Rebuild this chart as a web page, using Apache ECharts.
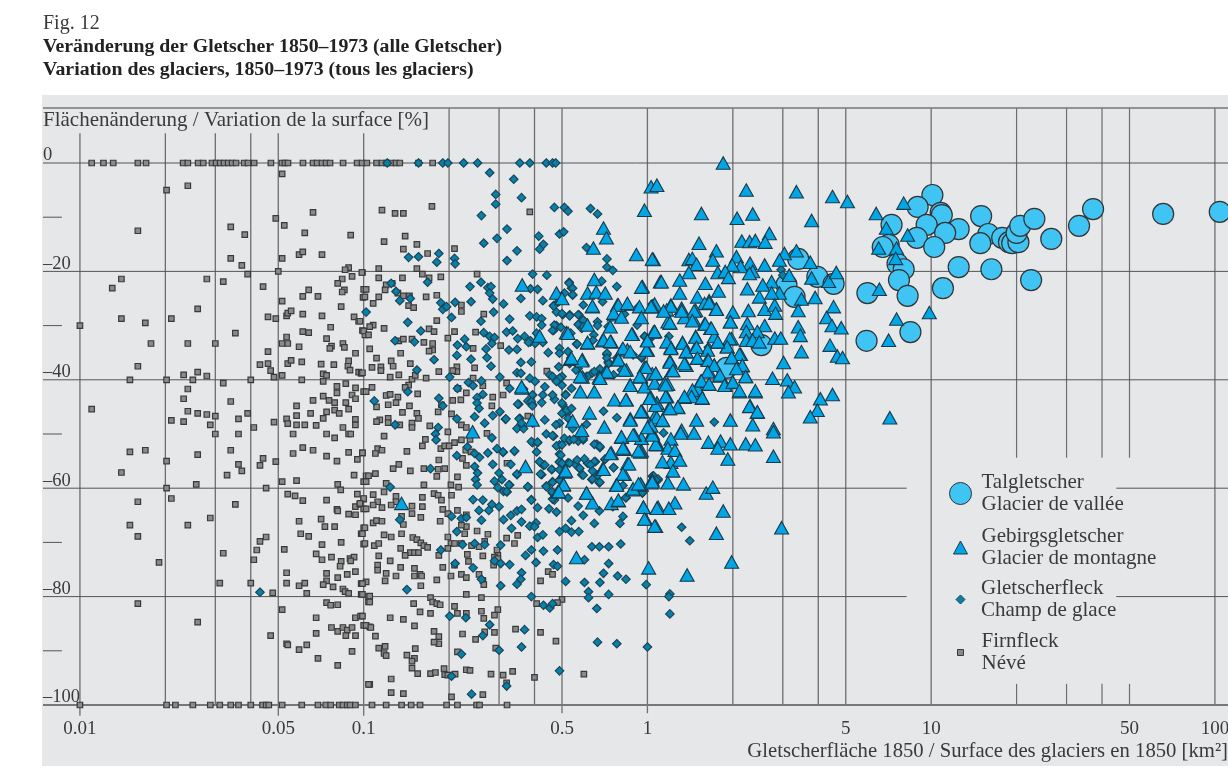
<!DOCTYPE html>
<html><head><meta charset="utf-8">
<style>html,body{margin:0;padding:0;background:#fff}#c{width:1228px;height:768px}</style>
<script src="https://cdn.jsdelivr.net/npm/echarts@6/dist/echarts.min.js"></script>
</head><body><div id="c"></div>
<script>
// Values: [area 1850 in km2, area change in %]
const valleyGlaciers=[[10.1,-5.9],[8.96,-8.1],[10.8,-9.2],[10.9,-9.6],[7.25,-11.4],[9.64,-11.4],[12.5,-12.2],[11.2,-12.9],[15,-9.8],[15.9,-13.1],[14.9,-14.8],[8.9,-13.8],[7.08,-15.1],[6.75,-15.5],[10.25,-15.5],[17.8,-13.8],[18.8,-14.6],[19.3,-14.8],[20.3,-14.6],[20,-12.9],[20.6,-11.6],[23.1,-10.3],[26.5,-14],[33.2,-11.6],[37.2,-8.5],[65.7,-9.4],[104,-9],[7.61,-18.6],[8,-19.6],[7.7,-21.6],[8.26,-24.5],[12.5,-19.2],[16.3,-19.6],[11,-23.1],[22.5,-21.6],[5.96,-24],[8.45,-31.2],[5.92,-32.8],[3.4,-17.7],[3.97,-21],[4.53,-22.3],[3.09,-22.5],[3.3,-24.7],[2.52,-33.6],[1.9,-37.8]];
const mountainGlaciers=[[1.85,0],[2.23,-5],[3.35,-5.3],[4.49,-6.2],[5.07,-7.1],[6.4,-9.3],[8,-7.4],[2.35,-9.4],[2.07,-10.2],[1.55,-9.3],[3.79,-10.6],[2.69,-13],[6.95,-12],[8.26,-13.3],[2.15,-14.4],[2.29,-14.5],[2.4,-14.3],[2.6,-14.6],[1.52,-14.8],[1.75,-16.2],[1.05,-17.8],[6.53,-15.7],[7.55,-15.7],[7.5,-17.6],[2.06,-17.3],[3.04,-16.7],[3.35,-16.2],[3.75,-18.3],[2.92,-17.9],[1.4,-17.8],[1.44,-17.6],[1.49,-18.7],[1.7,-17.9],[2.3,-18.5],[2.59,-18.8],[2.13,-19.1],[1.99,-18.8],[1.77,-20.2],[1.88,-20],[1.93,-21.1],[2.35,-20],[2.29,-20.4],[3.16,-20.7],[3.79,-21.2],[4.35,-21.8],[4.63,-20.2],[1.4,-20.2],[1.11,-21.9],[1.3,-21.6],[0.96,-22.8],[1.6,-22.2],[1.78,-23.6],[2.25,-23.2],[2.48,-24.7],[2.92,-24],[2.74,-21.9],[2.55,-22.5],[2.74,-24],[3.49,-25.1],[3.9,-24.8],[6.57,-23.3],[1.3,-24],[1.5,-24.7],[1.65,-25.4],[1.59,-25.9],[1.75,-26.9],[1.21,-26.2],[1.06,-26],[1.32,-26.8],[1.48,-27.2],[2,-27.5],[2.27,-27.2],[2.59,-27],[2.81,-26.2],[2.83,-27.7],[4.53,-26.5],[3.4,-27.2],[4.28,-28.5],[9.85,-27.6],[7.55,-28.8],[4.47,-30],[4.82,-30.4],[3.4,-30.2],[3.46,-31.8],[1.2,-29.5],[1.35,-28.5],[1.46,-29],[1.59,-29.7],[1.67,-30.5],[1.96,-29.3],[2.25,-29.6],[2.59,-30],[2.23,-31.1],[2.44,-31.1],[1.98,-32.4],[1.77,-33],[1.72,-32],[1.48,-32],[1.06,-31.1],[1.33,-33.1],[1.21,-34],[1.37,-34.8],[1.48,-34],[1.63,-34.5],[1.91,-33.9],[2.13,-35.3],[2.23,-32.7],[2.35,-32.7],[2.48,-33],[2.81,-32.3],[2.95,-32.3],[7.08,-32.7],[4.4,-33.6],[4.67,-35.6],[4.87,-35.9],[3.49,-34.8],[3.02,-36.8],[1,-34.5],[1.5,-36],[1.98,-35.9],[2.16,-37.4],[1.2,-36.5],[1.37,-37.3],[1.63,-36.3],[1.72,-37.3],[0.98,-37.7],[1.22,-38.3],[1.65,-38.5],[1.8,-39.3],[2,-40.5],[2.22,-39.4],[2.76,-39.7],[3.11,-40],[3.3,-41.3],[3.14,-42.2],[1.07,-38.9],[1.18,-40.8],[1.54,-40.3],[1.65,-40.8],[1.88,-41],[2.11,-42.2],[2.4,-42.2],[1.5,-41.6],[1.44,-42.5],[1.35,-43.2],[1.56,-43.4],[1.02,-43.4],[1.16,-43.1],[4.07,-43.5],[4.49,-42.7],[3.97,-45.6],[3.75,-46.8],[2.3,-44.8],[2.44,-46],[1.28,-45.1],[1.08,-44.3],[1.19,-45.3],[1.49,-47.4],[1.96,-47.4],[7.15,-47],[2.35,-48.3],[2.78,-49],[1.13,-47.5],[1.06,-46.8],[0.96,-45.9],[1.02,-48.3],[1.32,-49.3],[1.31,-49.8],[1.46,-49.8],[1.64,-51.5],[1.81,-51.3],[1.96,-51.8],[2.22,-51.8],[2.4,-52],[2.78,-49.6],[2.78,-54.1],[1.92,-54.6],[1.77,-52.6],[1.08,-51.7],[1.21,-50.9],[1.18,-52.6],[1.25,-53],[1.21,-55.2],[1.3,-54.8],[1.23,-56.8],[0.953,-53.1],[1.04,-49.8],[1.04,-58.5],[1.18,-59],[1.34,-59.2],[0.953,-59.4],[1.61,-60.9],[1.7,-59.8],[1.25,-62.7],[1.09,-63.5],[1.19,-63.7],[0.968,-63.5],[1.85,-64.2],[0.984,-65.7],[1.07,-67],[1.75,-68.3],[2.97,-67.3],[1.98,-73.6],[1.01,-74.7],[1.38,-76],[1.03,-4.4],[1.08,-4.1],[0.976,-8.7],[0.7,-12],[0.717,-13.8],[0.645,-15.7],[0.914,-16.9],[1.04,-17.7],[0.362,-22.5],[0.65,-21.5],[0.615,-24],[0.66,-23.8],[0.71,-24],[0.478,-24],[0.953,-22.9],[0.64,-26.5],[0.784,-26.2],[0.85,-26],[0.765,-28],[0.937,-26.5],[1.04,-26.5],[0.953,-28.5],[0.518,-31.3],[0.615,-29.9],[0.694,-32.8],[0.746,-33],[0.886,-31.6],[1.05,-31.2],[1,-32.7],[0.817,-34.3],[0.85,-34.5],[0.992,-34.5],[0.615,-33.2],[0.59,-36.3],[0.535,-36.2],[0.784,-36.3],[0.976,-37.7],[0.843,-38.2],[0.71,-38.6],[0.59,-39.5],[0.677,-39.5],[0.945,-39.5],[1.04,-38.9],[0.87,-41],[0.976,-41.3],[1.06,-40.6],[0.58,-42.2],[0.65,-42.2],[0.362,-41.5],[0.843,-43.7],[0.765,-43.7],[1.03,-43.3],[1.08,-44.3],[0.953,-45.9],[0.625,-46.1],[0.87,-47.2],[0.545,-47.6],[1.08,-47],[0.393,-47.4],[0.705,-48.7],[1.02,-48.3],[0.242,-49.6],[0.372,-56],[0.51,-57],[0.505,-59.4],[0.483,-60.7],[0.81,-50.6],[0.953,-50.8],[0.9,-50.2],[1.04,-50],[1.08,-52],[0.746,-53.5],[0.83,-52.8],[0.945,-53.3],[0.85,-55.5],[0.83,-57.4],[0.694,-56.5],[0.777,-59.4],[0.945,-59.2],[1.03,-59],[0.886,-60.3],[0.61,-60.9],[0.64,-62.7],[0.746,-62.8],[0.79,-62.3],[0.968,-63.5],[1.08,-63.7],[0.976,-65.7],[1.06,-67],[0.136,-62.8],[0.562,-72.8]];
const mountainGlaciersDense=[[0.5,-25],[1.12,-21.9],[0.64,-26.4],[0.79,-26.2],[0.85,-25.9],[0.76,-27.7],[0.81,-28.4],[1.03,-26.5],[1.17,-27.1],[0.74,-30.2],[0.88,-31.6],[1.06,-31.1],[0.7,-32.6],[0.74,-32.9],[0.615,-33.1],[0.525,-31.4],[0.417,-31.9],[0.82,-34.2],[0.87,-34.8],[1,-32.8],[1.18,-29.3],[1.17,-33],[0.79,-36.3],[0.587,-36.5],[0.54,-36],[0.99,-37.7],[1.07,-38.8],[0.83,-38.2],[0.72,-38.5],[0.58,-39.4],[0.94,-39.4],[0.87,-41],[1.15,-40.6],[0.36,-41.3],[0.68,-39.7],[0.95,-45.8],[0.87,-47.4],[0.84,-43.7],[0.81,-50.5],[0.89,-50.2],[1.07,-51.9],[0.93,-53.1],[0.74,-53.6],[0.82,-52.6],[0.86,-55.5],[0.82,-57.4],[0.7,-56.5],[0.515,-56.8],[0.507,-59.3],[0.78,-59.4],[0.89,-60.1],[0.93,-59.2],[0.61,-60.9],[0.487,-60.6],[0.587,-49.3],[1.03,-48.5],[1.13,-47.4],[1.04,-50.2],[1.07,-44.7],[1.17,-43.1],[1.02,-43.4],[1,-48.8],[1.13,-55.1],[1.04,-58.8],[0.79,-62.2],[1.21,-26.4],[1.14,-27.3],[1.32,-27.3],[1.46,-27.3],[1.65,-25.8],[1.75,-27],[1.2,-29.5],[1.44,-29.1],[1.6,-29.7],[1.96,-29.3],[1.95,-32.4],[1.91,-33.9],[1.77,-33],[1.68,-30.5],[1.33,-33.2],[1.48,-32.1],[1.21,-34.2],[1.37,-34.8],[1.49,-34],[1.5,-36],[1.64,-36.4],[1.35,-37],[1.2,-36.7],[1.23,-38.3],[1.72,-37.3],[1.63,-38.5],[1.8,-39.1],[2.11,-35.3],[1.98,-35.9],[2.16,-37.3],[2.06,-37.9],[2.22,-39.4],[1.55,-40.2],[1.65,-40.8],[1.87,-41],[2,-40.4],[2.11,-42],[2.4,-42],[1.44,-41.9],[1.43,-43.1],[1.56,-43.3],[1.35,-43.1],[1.16,-43.1],[1.28,-45],[1.2,-45.3],[2.29,-44.9],[2.44,-45.9],[1.16,-40.9]];
const iceFields=[[0.121,0],[0.156,0],[0.19,0],[0.198,0],[0.225,0],[0.252,0],[0.355,0],[0.385,0],[0.44,0],[0.463,0],[0.475,0],[0.278,-1.8],[0.338,-3],[0.292,-5.8],[0.36,-6.4],[0.292,-7.6],[0.26,-9.7],[0.47,-8.2],[0.51,-8.2],[0.525,-8.9],[0.63,-8.4],[0.667,-9.4],[0.32,-12.2],[0.295,-13.9],[0.265,-14.8],[0.414,-13.5],[0.43,-15],[0.417,-15.9],[0.347,-16.2],[0.32,-18],[0.49,-13.1],[0.507,-12.7],[0.61,-15.6],[0.72,-17.7],[0.72,-19.2],[0.755,-19.8],[0.144,-17.4],[0.156,-17.3],[0.184,-16.7],[0.181,-18.3],[0.209,-17.6],[0.21,-18.6],[0.168,-22],[0.125,-22.2],[0.13,-23.7],[0.134,-25.4],[0.146,-25],[0.102,-27.5],[0.143,-29.4],[0.159,-31],[0.129,-32.8],[0.151,-33],[0.187,-25.8],[0.19,-27],[0.196,-26.5],[0.21,-25.7],[0.239,-25.6],[0.204,-28.5],[0.237,-22.8],[0.259,-22],[0.274,-23],[0.281,-22.8],[0.278,-24],[0.285,-25.1],[0.311,-26],[0.287,-27.5],[0.259,-29.2],[0.327,-28.8],[0.265,-31.3],[0.278,-32],[0.289,-32.2],[0.319,-31.2],[0.335,-31],[0.349,-32.4],[0.369,-32],[0.387,-33],[0.402,-33.3],[0.428,-33.1],[0.407,-31.4],[0.214,-33.6],[0.23,-33.9],[0.227,-32.5],[0.27,-34.3],[0.283,-33.3],[0.325,-34.5],[0.347,-34.4],[0.213,-35.5],[0.177,-36.3],[0.239,-36.2],[0.272,-35.9],[0.281,-37.5],[0.154,-38.2],[0.201,-39.5],[0.302,-39.5],[0.26,-40.2],[0.234,-40.5],[0.243,-41.1],[0.214,-41.6],[0.184,-43.4],[0.109,-43.9],[0.143,-42.2],[0.19,-44.8],[0.263,-42.7],[0.251,-43.3],[0.251,-44.3],[0.255,-45.3],[0.246,-46.8],[0.213,-47.2],[0.285,-46.6],[0.302,-45.9],[0.316,-47.3],[0.267,-48],[0.183,-48.8],[0.129,-48.3],[0.352,-44.5],[0.36,-41.6],[0.394,-42.8],[0.379,-43.9],[0.394,-44.6],[0.428,-42.8],[0.424,-44.2],[0.47,-43.6],[0.515,-42.7],[0.54,-41.6],[0.503,-44.6],[0.52,-46.2],[0.435,-47.4],[0.355,-47.1],[0.36,-48.6],[0.394,-48],[0.49,-48],[0.347,-38.7],[0.358,-38.8],[0.385,-39.7],[0.402,-40.3],[0.453,-39.1],[0.463,-39.4],[0.482,-40],[0.5,-41],[0.358,-36.8],[0.39,-36.7],[0.447,-35],[0.487,-37.6],[0.49,-34.2],[0.525,-34.8],[0.563,-33.4],[0.537,-36],[0.57,-37.9],[0.667,-38.5],[0.637,-38.8],[0.61,-39.4],[0.72,-35.4],[0.727,-36.7],[0.81,-38.2],[0.89,-35.4],[0.955,-36],[0.78,-22.8],[0.69,-21.8],[0.53,-22],[0.54,-23.1],[0.545,-24.4],[0.51,-24],[0.49,-25.3],[0.394,-20.5],[0.442,-20.7],[0.387,-23.2],[0.41,-23.3],[0.358,-25],[0.428,-25.4],[0.467,-26.3],[0.478,-27.5],[0.503,-28],[0.532,-28],[0.573,-28],[0.594,-26.2],[0.695,-25.6],[0.93,-26.5],[1.04,-26],[0.385,-28.2],[0.407,-28.4],[0.424,-28.7],[0.424,-29.9],[0.478,-30],[0.495,-30.3],[0.467,-30.9],[0.577,-29.6],[0.597,-29.1],[0.587,-30.5],[0.667,-29.3],[0.727,-30.2],[0.83,-27.9],[1.04,-32],[0.179,-50],[0.18,-51.1],[0.213,-54],[0.246,-53.6],[0.256,-54.3],[0.274,-53.5],[0.285,-55.6],[0.295,-52.7],[0.31,-53.4],[0.34,-53.2],[0.283,-50.7],[0.232,-52.4],[0.246,-56],[0.252,-57.2],[0.248,-58.4],[0.251,-59.4],[0.172,-56.4],[0.124,-59.8],[0.3,-57.2],[0.307,-58.4],[0.289,-58.7],[0.327,-59.4],[0.297,-59.9],[0.311,-60.6],[0.32,-60.7],[0.347,-57.5],[0.379,-59.8],[0.33,-55.6],[0.424,-57.5],[0.417,-55.1],[0.43,-55.8],[0.46,-56.6],[0.49,-58.5],[0.463,-58.8],[0.44,-59.6],[0.407,-53.3],[0.394,-51.6],[0.41,-51.6],[0.44,-50],[0.467,-50.4],[0.49,-52],[0.53,-51.3],[0.57,-51.3],[0.594,-51.1],[0.663,-51.9],[0.68,-52.5],[0.49,-53.7],[0.49,-55.1],[0.525,-55.3],[0.555,-55.5],[0.577,-56.4],[0.587,-57.5],[0.615,-55.4],[0.656,-55.1],[0.708,-54.7],[0.637,-58.4],[0.677,-59],[0.76,-56.2],[1.04,-57.8],[1.09,-58.5],[0.463,-60.9],[0.47,-62.2],[0.39,-62.1],[0.41,-63.6],[0.45,-63.8],[0.478,-64.4],[0.525,-61.8],[0.57,-63.3],[0.594,-65],[0.677,-64.2],[0.755,-63.4],[0.84,-61.8],[0.96,-60.9],[0.243,-62.1],[0.263,-62.2],[0.283,-63],[0.3,-63.4],[0.255,-64.1],[0.276,-64.1],[0.204,-65.2],[0.221,-65.6],[0.23,-65.4],[0.26,-65.9],[0.134,-65.8],[0.311,-65.8],[0.33,-65],[0.347,-64.2],[0.36,-63.9],[0.36,-66.2],[0.332,-67.4],[0.385,-67],[0.405,-66.4],[0.4,-67.1],[0.41,-69.1],[0.428,-68.6],[0.49,-68],[0.515,-67.4],[0.54,-66],[0.54,-68.1],[0.573,-68],[0.65,-66.5],[0.8,-66.5],[0.82,-65.2],[0.213,-68],[0.223,-70.4],[0.246,-70.2],[0.267,-70.4],[0.187,-71.4],[0.304,-70.5],[0.372,-72.4],[0.39,-71.4],[0.43,-71.6],[0.482,-71.4],[0.637,-70.8],[0.677,-70.8],[0.73,-70.8],[0.805,-70.3],[0.21,-73.9],[0.243,-74.7],[0.289,-73.4],[0.304,-73.9],[0.327,-74.1],[0.405,-73.7],[0.467,-74.1],[0.482,-74.4],[0.6,-73.2],[0.73,-73.9],[0.36,-75.6],[0.358,-76.8],[0.347,-77.7],[0.26,-76.8],[0.515,-77.2],[0.6,-77.4],[0.7,-75.7],[0.68,-77.4],[0.785,-76.2],[0.84,-76.8],[0.99,-77.8],[0.304,-78],[0.142,-78.7],[0.62,-79.1],[0.73,-79.6],[0.39,-80],[0.62,-80.2],[0.43,-81.6],[0.453,-82.1],[0.463,-81.3],[0.663,-82.2],[0.201,-83.6],[0.229,-83.9],[0.278,-85.2],[0.263,-87.2],[0.369,-86.1],[0.667,-88.4],[0.78,-88.7],[1,-89.3],[0.36,-89.3],[0.3,-89.9],[0.221,-90.6],[0.49,-93.7],[0.204,-94.7],[0.319,-96.5],[0.24,-98],[1.32,-67.2],[1.41,-69.7],[1.05,-57.7],[1.09,-58.3],[0.96,-60.7],[1.2,-79.5],[1.19,-80],[1.2,-83.2],[1.14,-49.8],[0.0431,-79.2],[2.96,-19.7],[3,-20.7],[1.32,-27.5],[1.04,-26.2],[1.19,-32],[1.04,-32],[0.976,-32],[1.64,-34],[0.953,-35.8],[0.984,-41.5],[1.72,-47.8]];
const iceFieldsDense=[[0.387,-32.8],[0.381,-33.1],[0.49,-35.1],[0.532,-37],[0.56,-38.2],[0.53,-22.2],[0.545,-23.1],[0.545,-24.3],[0.487,-25.6],[0.467,-26.4],[0.5,-27.8],[0.532,-28.2],[0.57,-28],[0.594,-29],[0.57,-29.8],[0.594,-30.2],[0.47,-29.9],[0.463,-30.9],[0.537,-31.4],[0.667,-30],[0.647,-31.7],[0.643,-32.7],[0.565,-33.4],[0.92,-29.9],[0.98,-32],[0.72,-35.1],[0.72,-36],[0.73,-37],[0.78,-36],[0.68,-38],[0.65,-38.5],[0.615,-39.4],[0.594,-39.4],[0.5,-39.4],[0.49,-39.7],[0.478,-40.3],[0.435,-41.3],[0.76,-39.1],[0.327,-41.6],[0.366,-41.7],[0.393,-42.8],[0.39,-44],[0.349,-44.5],[0.393,-44.8],[0.463,-42.8],[0.515,-42.8],[0.5,-44.3],[0.5,-46.2],[0.52,-45.6],[0.54,-45.3],[0.525,-47.1],[0.545,-49],[0.61,-48.2],[0.7,-45.8],[0.78,-47],[0.476,-48.3],[0.463,-50.3],[0.317,-47.2],[0.353,-47.2],[0.347,-49],[0.366,-49],[0.36,-48],[0.39,-51.4],[0.41,-51.5],[0.51,-50.8],[0.532,-51.1],[0.594,-50.8],[0.55,-51],[0.478,-52.2],[0.5,-52],[0.65,-51.9],[0.68,-52.3],[0.31,-53.3],[0.34,-53.1],[0.495,-53.9],[0.417,-55.1],[0.435,-55.7],[0.49,-55.2],[0.5,-55.4],[0.532,-55.4],[0.565,-54.8],[0.6,-54.6],[0.65,-55.1],[0.63,-55.7],[0.71,-54.6],[0.577,-56.3],[0.594,-57.6],[0.64,-56.8],[0.64,-58.3],[0.667,-57.6],[0.68,-58.9],[0.76,-56.2],[0.46,-56.5],[0.42,-57.4],[0.49,-56.6],[0.347,-57.4],[0.463,-58.9],[0.44,-59.7],[0.49,-58.5],[0.325,-59.4],[0.319,-60.6],[0.379,-59.7],[0.46,-60.6],[0.463,-62],[0.82,-59.5],[0.96,-60.8],[0.39,-62.2],[0.84,-61.7],[1.07,-58.5]];
const firnNoLossAreas=[0.011,0.0121,0.0131,0.016,0.0171,0.0231,0.024,0.0261,0.0272,0.0292,0.0302,0.0312,0.0322,0.0333,0.0344,0.0355,0.0379,0.0391,0.0411,0.0471,0.0515,0.0528,0.0541,0.0611,0.0663,0.0685,0.0713,0.0737,0.0761,0.0846,0.0948,0.0987,0.1026,0.111,0.116,0.1205,0.1255,0.13,0.134,0.156,0.175];
const firnFullLossAreas=[0.01,0.0202,0.0217,0.025,0.0288,0.0311,0.034,0.0362,0.04,0.044,0.0453,0.0463,0.0516,0.0605,0.069,0.0735,0.0765,0.082,0.0845,0.0875,0.0895,0.0935,0.107,0.12,0.136,0.147,0.158,0.196,0.214,0.25,0.256,0.32];
const firnPatches=[[0.0516,-2],[0.0202,-5],[0.024,-4.2],[0.049,-10.2],[0.0525,-11.5],[0.0663,-9.1],[0.016,-12.5],[0.034,-11.8],[0.0381,-13.2],[0.062,-12.9],[0.09,-13.3],[0.034,-17.6],[0.0372,-18.9],[0.039,-20.5],[0.0516,-17.6],[0.0592,-16.9],[0.061,-16.4],[0.0713,-16.9],[0.05,-20],[0.0885,-19.3],[0.086,-19.7],[0.099,-20.2],[0.091,-20.9],[0.014,-21.4],[0.013,-23.1],[0.028,-21.4],[0.032,-21.9],[0.0442,-22.8],[0.084,-21.4],[0.081,-22.2],[0.064,-23.4],[0.061,-24.6],[0.069,-24.6],[0.0516,-25.5],[0.0855,-23.4],[0.084,-23.8],[0.1,-23.3],[0.0995,-24.8],[0.026,-26.9],[0.014,-28.7],[0.017,-29.5],[0.021,-28.7],[0.01,-30],[0.046,-28.4],[0.049,-28.7],[0.0535,-28.2],[0.054,-27.7],[0.0555,-27.3],[0.061,-27.9],[0.0713,-28.2],[0.0833,-26.5],[0.0925,-28.4],[0.096,-29.2],[0.0765,-30.3],[0.061,-31.1],[0.064,-31.3],[0.099,-30.9],[0.101,-31.7],[0.0353,-31.4],[0.0535,-32.1],[0.074,-32.4],[0.0178,-33.3],[0.024,-33.3],[0.03,-33.3],[0.0516,-33.3],[0.054,-33.3],[0.0592,-33.9],[0.077,-33.8],[0.076,-34.2],[0.0845,-33.3],[0.0855,-34],[0.0936,-35.1],[0.046,-34.8],[0.046,-37],[0.0431,-37.2],[0.047,-38.3],[0.054,-37],[0.0555,-36.4],[0.0605,-36.7],[0.0708,-37.1],[0.0785,-37.2],[0.0885,-36.5],[0.088,-37.5],[0.0895,-38.2],[0.096,-38.6],[0.098,-38.8],[0.016,-37.5],[0.015,-40],[0.0202,-40],[0.0232,-39.1],[0.025,-40],[0.026,-38.6],[0.028,-39.3],[0.032,-40.6],[0.04,-40],[0.0483,-39.5],[0.0516,-39.2],[0.0605,-40],[0.072,-38.9],[0.074,-39.2],[0.072,-40.3],[0.0805,-41.2],[0.0805,-42.4],[0.0865,-40.7],[0.0936,-41.5],[0.1,-42.2],[0.024,-41.7],[0.0232,-43.5],[0.034,-44],[0.011,-45.4],[0.024,-45.8],[0.026,-46.2],[0.028,-46.4],[0.03,-46.7],[0.039,-46.2],[0.021,-47.5],[0.0232,-47.7],[0.0288,-48.3],[0.0362,-47.2],[0.041,-48.8],[0.0483,-47.8],[0.0535,-47.2],[0.054,-48.1],[0.058,-44.8],[0.058,-46.6],[0.058,-48.3],[0.062,-48.3],[0.0663,-43.8],[0.065,-46.2],[0.068,-48.4],[0.072,-43],[0.0755,-43.8],[0.079,-44.2],[0.074,-45.9],[0.079,-45.6],[0.082,-46.2],[0.072,-47.1],[0.0865,-44.2],[0.0885,-45.4],[0.091,-42.8],[0.0936,-43.5],[0.0935,-47.3],[0.0935,-48.3],[0.0845,-48.8],[0.03,-50],[0.0362,-50],[0.0564,-50],[0.074,-50],[0.079,-50.7],[0.0885,-50],[0.09,-50],[0.015,-53.3],[0.017,-53],[0.026,-53.8],[0.034,-53],[0.0362,-55.6],[0.0372,-56.8],[0.033,-57.6],[0.014,-57.1],[0.0202,-55],[0.0564,-53.6],[0.061,-52.5],[0.0663,-53],[0.074,-54.1],[0.0805,-55],[0.0885,-53.4],[0.099,-53.5],[0.095,-54.7],[0.0442,-54.5],[0.0431,-55.8],[0.049,-55.1],[0.0925,-57.6],[0.102,-57.7],[0.1,-58.8],[0.058,-58.6],[0.0516,-58.8],[0.081,-59.3],[0.083,-60.3],[0.0257,-59.3],[0.0202,-60],[0.0453,-60],[0.054,-61.1],[0.0573,-61.4],[0.061,-62.3],[0.074,-62.2],[0.095,-61.1],[0.1,-62],[0.016,-62.5],[0.021,-61.9],[0.0353,-63],[0.0805,-63.9],[0.081,-64.2],[0.0935,-63.4],[0.097,-63],[0.1,-63.8],[0.0885,-64.8],[0.0936,-64.9],[0.0288,-65.5],[0.024,-66.8],[0.015,-66.8],[0.0592,-66.1],[0.0708,-65.7],[0.073,-67.1],[0.079,-67.1],[0.1,-67.3],[0.016,-68.9],[0.06,-68.4],[0.064,-68.9],[0.098,-68.4],[0.0453,-69],[0.0431,-69.8],[0.0713,-70.4],[0.0833,-70],[0.1,-70.3],[0.0525,-71.3],[0.042,-71.4],[0.032,-72],[0.041,-73.2],[0.019,-73.7],[0.068,-72.1],[0.0713,-73.2],[0.077,-72.7],[0.0833,-73.5],[0.0826,-74.4],[0.0895,-73],[0.0925,-72.7],[0.09,-73.4],[0.0535,-75.6],[0.0935,-75.4],[0.0875,-75.9],[0.074,-75.7],[0.074,-77.1],[0.081,-76.5],[0.0311,-77.5],[0.04,-77.5],[0.0535,-77.5],[0.0592,-78],[0.062,-77.5],[0.072,-77.8],[0.078,-78.2],[0.0845,-78.6],[0.086,-79.1],[0.0885,-79.4],[0.098,-77.6],[0.102,-77.3],[0.0478,-79.3],[0.063,-79.4],[0.098,-79.6],[0.104,-80],[0.104,-81],[0.016,-81.3],[0.074,-81.1],[0.0765,-81.6],[0.081,-81.5],[0.0516,-82.4],[0.026,-84.7],[0.068,-83.9],[0.0935,-83.9],[0.0975,-83.6],[0.1,-85.3],[0.105,-85.6],[0.077,-85.7],[0.081,-86.4],[0.0845,-85.7],[0.0875,-86.2],[0.091,-85.7],[0.0865,-87.2],[0.0936,-87.2],[0.068,-86.8],[0.047,-87.2],[0.0535,-88.7],[0.054,-88.9],[0.063,-88.9],[0.0592,-89.8],[0.069,-91.4],[0.091,-90.1],[0.081,-92.7],[0.105,-96.2],[0.116,-8.7],[0.129,-9.3],[0.138,-9.3],[0.174,-8],[0.385,-9],[0.118,-14.5],[0.14,-13.5],[0.154,-15],[0.138,-15.9],[0.168,-16.7],[0.209,-15.8],[0.113,-19.5],[0.154,-19.5],[0.161,-20.5],[0.0985,-20.2],[0.113,-21.2],[0.137,-21.2],[0.17,-21.2],[0.187,-21],[0.251,-20.5],[0.126,-22.2],[0.12,-22.5],[0.119,-23.4],[0.102,-23.3],[0.101,-24.7],[0.113,-24.7],[0.108,-25.9],[0.132,-24],[0.138,-24.5],[0.145,-24.5],[0.144,-26.3],[0.15,-26.7],[0.166,-24.7],[0.181,-24.4],[0.221,-26.2],[0.221,-27.4],[0.265,-27.9],[0.097,-29.2],[0.108,-29.9],[0.105,-30.2],[0.1,-31],[0.104,-31.7],[0.118,-30.5],[0.181,-29.1],[0.17,-30.6],[0.177,-31.1],[0.209,-31.1],[0.248,-31.2],[0.198,-32.3],[0.133,-32.8],[0.138,-32.5],[0.148,-32.5],[0.163,-33.1],[0.175,-33.3],[0.175,-34.5],[0.17,-34.7],[0.105,-34.3],[0.135,-35.1],[0.243,-34.2],[0.304,-33.7],[0.111,-36],[0.125,-36.5],[0.127,-37.5],[0.146,-37],[0.107,-37.7],[0.115,-37.6],[0.115,-38.3],[0.099,-38.7],[0.184,-38.5],[0.133,-39.1],[0.124,-39.5],[0.213,-37.6],[0.213,-38.5],[0.206,-38.3],[0.246,-37.8],[0.166,-39.7],[0.148,-39.9],[0.152,-39.2],[0.243,-39.7],[0.107,-41.4],[0.102,-42.2],[0.144,-41],[0.14,-41.4],[0.12,-42.9],[0.124,-42.7],[0.132,-43.2],[0.155,-42.6],[0.263,-41.1],[0.319,-40.6],[0.23,-42.4],[0.215,-41.6],[0.285,-43.2],[0.31,-42.8],[0.111,-45],[0.122,-44.6],[0.13,-44.2],[0.145,-44.8],[0.188,-44.6],[0.206,-43.8],[0.22,-43.7],[0.283,-44.8],[0.137,-46],[0.183,-45.9],[0.154,-46.2],[0.156,-47.1],[0.204,-46.3],[0.122,-47.1],[0.114,-47.4],[0.111,-47.7],[0.122,-47.9],[0.134,-48.3],[0.148,-48],[0.148,-48.8],[0.171,-48.5],[0.221,-48.3],[0.23,-48.8],[0.379,-46.7],[0.442,-38.4],[0.118,-50.4],[0.161,-52.2],[0.165,-51],[0.198,-49.6],[0.187,-52.7],[0.193,-52.2],[0.2,-52.2],[0.209,-51.6],[0.221,-51.1],[0.237,-51],[0.229,-53],[0.239,-53.3],[0.112,-52.7],[0.11,-53.6],[0.116,-53],[0.099,-53.5],[0.142,-53.2],[0.272,-49.9],[0.184,-54.8],[0.193,-56.4],[0.183,-56.5],[0.163,-56.4],[0.146,-56.8],[0.133,-55.6],[0.127,-56.4],[0.11,-57.3],[0.104,-57.7],[0.102,-58.8],[0.181,-57.8],[0.214,-57.9],[0.223,-54.5],[0.23,-55.8],[0.12,-59.1],[0.163,-59.4],[0.203,-59.4],[0.216,-59.8],[0.32,-55.4],[0.118,-60.7],[0.108,-61.2],[0.112,-62.5],[0.108,-63.1],[0.102,-63.8],[0.116,-63.6],[0.1,-61.9],[0.097,-62.8],[0.13,-61.5],[0.13,-62.5],[0.125,-63.1],[0.148,-63.3],[0.161,-61.7],[0.161,-63.4],[0.177,-61],[0.183,-61.3],[0.188,-62.2],[0.204,-61.3],[0.19,-63.9],[0.198,-64.7],[0.214,-64.1],[0.23,-64.9],[0.148,-64.7],[0.136,-65.2],[0.159,-65.4],[0.186,-66.1],[0.108,-66.4],[0.111,-66],[0.116,-66.1],[0.138,-66.7],[0.101,-67.3],[0.099,-68.4],[0.118,-68.6],[0.125,-69],[0.136,-68.4],[0.149,-69.1],[0.154,-69.5],[0.159,-70.1],[0.163,-70.6],[0.168,-70.9],[0.198,-69],[0.203,-70.2],[0.209,-70.2],[0.221,-70.2],[0.23,-67.1],[0.221,-66.8],[0.227,-68.4],[0.251,-67.9],[0.274,-68.5],[0.319,-69.2],[0.349,-68.7],[0.34,-70.2],[0.267,-69.8],[0.101,-70.2],[0.109,-70.6],[0.113,-70.2],[0.135,-71.1],[0.146,-71.9],[0.151,-71.9],[0.156,-71.9],[0.14,-72.4],[0.113,-72.5],[0.124,-73.4],[0.184,-72.4],[0.198,-71.1],[0.232,-72.2],[0.234,-73.5],[0.24,-70.6],[0.255,-70.8],[0.263,-72.5],[0.295,-71.4],[0.297,-72.4],[0.287,-74.2],[0.209,-74.2],[0.19,-74.6],[0.112,-74.2],[0.112,-75.1],[0.135,-74.6],[0.151,-74.8],[0.12,-75.7],[0.13,-76.2],[0.119,-77.1],[0.099,-77.6],[0.151,-76.2],[0.158,-75.9],[0.16,-76.2],[0.181,-76.9],[0.203,-76.2],[0.221,-75.9],[0.23,-76.5],[0.255,-75.9],[0.263,-77],[0.265,-77.8],[0.159,-78],[0.42,-77.1],[0.447,-75.4],[0.463,-75.9],[0.23,-79.6],[0.26,-80.2],[0.099,-79.6],[0.105,-79.9],[0.105,-81],[0.172,-80.2],[0.175,-81],[0.181,-81.3],[0.186,-81.5],[0.15,-81.3],[0.209,-81.8],[0.158,-82.8],[0.172,-83.1],[0.214,-83.1],[0.23,-83.1],[0.26,-82.7],[0.297,-82.4],[0.289,-83.4],[0.265,-84],[0.124,-83.9],[0.138,-84.2],[0.099,-83.6],[0.151,-85.4],[0.102,-85.3],[0.106,-85.7],[0.177,-86.4],[0.184,-87.4],[0.184,-88.7],[0.177,-88.4],[0.223,-86.9],[0.267,-86.5],[0.289,-86.6],[0.343,-86],[0.42,-86.6],[0.248,-87.9],[0.476,-88.2],[0.11,-87.3],[0.119,-89.2],[0.113,-89.5],[0.152,-89.6],[0.214,-90.2],[0.292,-89.5],[0.118,-90.5],[0.12,-90.9],[0.142,-90.8],[0.151,-91.4],[0.148,-91.9],[0.148,-93.2],[0.155,-94.2],[0.172,-94.2],[0.179,-94],[0.192,-93.3],[0.193,-94.4],[0.198,-94.5],[0.21,-94.3],[0.23,-93.5],[0.237,-93.6],[0.281,-94.3],[0.31,-94.5],[0.335,-93.8],[0.4,-94.9],[0.597,-94.3],[0.125,-95.2],[0.104,-96.2],[0.125,-97.7],[0.138,-97.9],[0.204,-98.5],[0.263,-98.1],[0.319,-95.9],[0.5,-80.5],[0.482,-81.1],[0.407,-81.3],[0.289,-72.7],[0.297,-73]];
const xTickLabels=[0.01,0.05,0.1,0.5,1,5,10,50,100];
const yTickLabels=[0,-20,-40,-60,-80,-100];
const yShortDashes=[-10,-30,-50,-70,-90];
const yRules=[0,-20,-40];
const xRulesShort=[0.02,0.03,0.04,0.05,0.01,0.1];
const xRulesTall=[0.2,0.3,0.4,0.5,1,2,3,4,5,10,100];
const xRulesBroken=[20,30,40,50];

const firnAll=firnNoLossAreas.map(a=>[a,0]).concat(firnPatches,firnFullLossAreas.map(a=>[a,-100]));
const leftEdge=0.00741,rightEdge=111.2,topEdge=10.15,shortTop=5.5,legendTop=-54.4,legendBottom=-96.1,breakLeft=8.2,breakRight=44.9;
const SERIF='"Liberation Serif","Times New Roman",serif';
const TXT='#3a3a3a';
function rule(seg,color,width){return{type:'line',silent:true,clip:false,symbol:'none',z:1,animation:false,legendHoverLink:false,data:seg,lineStyle:{color:color,width:width}};}
const rules=[];
xRulesShort.forEach(v=>rules.push(rule([[v,shortTop],[v,[0.01,0.05,0.1].includes(v)?-102:-100]],'#6e6e6e',1.3)));
xRulesTall.forEach(v=>rules.push(rule([[v,topEdge],[v,[0.5,1].includes(v)?-101.5:-100]],'#6e6e6e',1.3)));
xRulesBroken.forEach(v=>{rules.push(rule([[v,topEdge],[v,legendTop]],'#6e6e6e',1.2));rules.push(rule([[v,legendBottom],[v,-100]],'#6e6e6e',1.2));});
yRules.forEach(v=>rules.push(rule([[leftEdge,v],[rightEdge,v]],'#555',1)));
[-60,-80].forEach(v=>{rules.push(rule([[leftEdge,v],[breakLeft,v]],'#555',1));rules.push(rule([[breakRight,v],[rightEdge,v]],'#555',1));});
rules.push(rule([[leftEdge,-100],[rightEdge,-100]],'#777',2));
rules.push(rule([[leftEdge,topEdge],[rightEdge,topEdge]],'#777',1.5));
yShortDashes.forEach(v=>rules.push(rule([[leftEdge,v],[0.00864,v]],'#555',1)));

const N1='Talgletscher\nGlacier de vallée',N2='Gebirgsgletscher\nGlacier de montagne',N3='Gletscherfleck\nChamp de glace',N4='Firnfleck\nNévé';
function leg(name,icon,w,h,left,top,pad){return{data:[{name:name,icon:icon}],left:left,top:top,orient:'vertical',itemWidth:w,itemHeight:h,padding:0,selectedMode:false,
 itemStyle:{borderWidth:1},
 textStyle:{fontFamily:SERIF,fontSize:21,color:TXT,lineHeight:22.5,padding:[4,0,0,pad]}};}
function ttl(t,y,b){return{text:t,left:43,top:y,padding:0,textStyle:{fontFamily:SERIF,fontSize:b?19.8:20,fontWeight:b?'bold':'normal',color:b?'#222':TXT}};}
const chart=echarts.init(document.getElementById('c'),null,{renderer:'canvas'});
chart.setOption({
 animation:false,backgroundColor:'#fff',
 title:[ttl('Fig. 12',14,false),ttl('Veränderung der Gletscher 1850–1973 (alle Gletscher)',37,true),ttl('Variation des glaciers, 1850–1973 (tous les glaciers)',60,true)],
 graphic:[{type:'rect',silent:true,z:-10,shape:{x:42,y:95,width:1186,height:671},style:{fill:'#e6e7e9'}}],
 grid:{left:43,top:163,width:1185,height:542,containLabel:false,outerBoundsMode:'none'},
 legend:[leg(N1,'circle',22,22,949,469,5),leg(N2,'triangle',14,13,953,523,9),leg(N3,'diamond',9,9,955.5,575,11),leg(N4,'rect',6,6,957,628,13)],
 xAxis:{type:'log',min:leftEdge,max:rightEdge,logBase:10,
  name:'Gletscherfläche 1850 / Surface des glaciers en 1850 [km²]',nameLocation:'end',nameGap:0,
  nameTextStyle:{fontFamily:SERIF,fontSize:20.7,color:TXT,align:'right',verticalAlign:'top',padding:[36,0,0,0]},
  axisLine:{show:false,onZero:false},axisTick:{show:false},splitLine:{show:false},minorTick:{show:false},minorSplitLine:{show:false},
  axisLabel:{customValues:xTickLabels,formatter:v=>String(+(+v).toPrecision(3)),fontFamily:SERIF,fontSize:19,color:TXT,margin:15,hideOverlap:false,showMinLabel:true,showMaxLabel:true}},
 yAxis:{type:'value',min:-100,max:0,interval:20,
  name:'Flächenänderung / Variation de la surface [%]',nameLocation:'end',nameGap:32,
  nameTextStyle:{fontFamily:SERIF,fontSize:21,color:TXT,align:'left'},
  axisLine:{show:false,onZero:false},axisTick:{show:false},splitLine:{show:false},
  axisLabel:{inside:true,formatter:v=>yTickLabels.includes(v)?String(v).replace('-','–'):'',align:'left',verticalAlign:'bottom',margin:0,fontFamily:SERIF,fontSize:18.5,color:TXT,lineHeight:15}},
 series:rules.concat([
  {name:N1,type:'scatter',z:3,symbol:'circle',symbolSize:21,data:valleyGlaciers,itemStyle:{color:'#40c4f4',borderColor:'#333',borderWidth:1.2,opacity:1}},
  {name:N4,type:'scatter',z:4,symbol:'rect',symbolSize:5.5,data:firnAll,itemStyle:{color:'#8a8a8a',borderColor:'#3a3a3a',borderWidth:1.2,opacity:1}},
  {name:N3,type:'scatter',z:5,symbol:'diamond',symbolSize:8.5,data:iceFields.concat(iceFieldsDense),itemStyle:{color:'#0781a9',borderColor:'#1b4558',borderWidth:1.2,opacity:1}},
  {name:N2,type:'scatter',z:6,symbol:'triangle',symbolSize:[14,12.5],data:mountainGlaciers.concat(mountainGlaciersDense),itemStyle:{color:'#00a6e6',borderColor:'#1a3a4a',borderWidth:1.1,opacity:1}}
 ])
});
</script></body></html>
